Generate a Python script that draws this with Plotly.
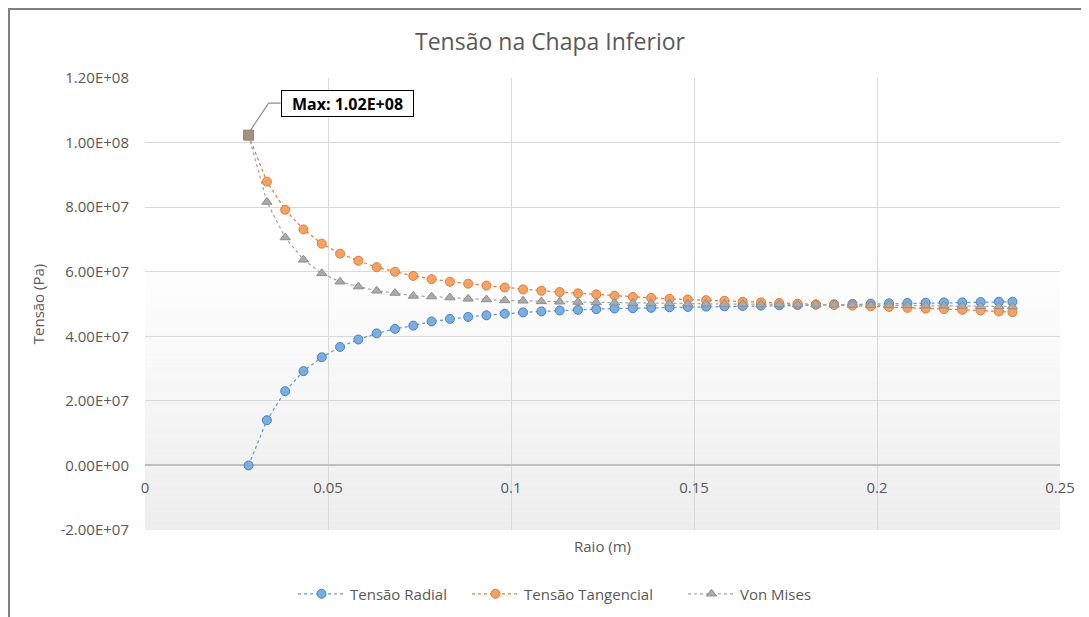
import plotly.graph_objects as go

# ---------------- data ----------------
raio = [0.0283, 0.0333, 0.0383, 0.0433, 0.0483, 0.0533, 0.0583, 0.0633, 0.0683, 0.0733,
        0.0783, 0.0833, 0.0883, 0.0933, 0.0983, 0.1033, 0.1083, 0.1133, 0.1183, 0.1233,
        0.1283, 0.1333, 0.1383, 0.1433, 0.1483, 0.1533, 0.1583, 0.1633, 0.1683, 0.1733,
        0.1783, 0.1833, 0.1883, 0.1933, 0.1983, 0.2033, 0.2083, 0.2133, 0.2183, 0.2233,
        0.2283, 0.2333, 0.2370]

tensao_radial = [0.00e7, 1.40e7, 2.30e7, 2.92e7, 3.35e7, 3.67e7, 3.90e7, 4.09e7, 4.23e7, 4.33e7,
                 4.46e7, 4.54e7, 4.60e7, 4.65e7, 4.70e7, 4.74e7, 4.77e7, 4.80e7, 4.82e7, 4.84e7,
                 4.86e7, 4.87e7, 4.88e7, 4.90e7, 4.91e7, 4.92e7, 4.93e7, 4.94e7, 4.95e7, 4.96e7,
                 4.97e7, 4.98e7, 4.99e7, 5.00e7, 5.01e7, 5.02e7, 5.03e7, 5.04e7, 5.05e7, 5.05e7,
                 5.06e7, 5.07e7, 5.07e7]

tensao_tangencial = [10.23e7, 8.79e7, 7.92e7, 7.31e7, 6.87e7, 6.56e7, 6.34e7, 6.14e7, 6.00e7, 5.87e7,
                     5.77e7, 5.69e7, 5.63e7, 5.57e7, 5.51e7, 5.45e7, 5.41e7, 5.37e7, 5.33e7, 5.30e7,
                     5.26e7, 5.22e7, 5.19e7, 5.16e7, 5.14e7, 5.12e7, 5.10e7, 5.07e7, 5.05e7, 5.03e7,
                     5.01e7, 4.99e7, 4.97e7, 4.95e7, 4.93e7, 4.91e7, 4.88e7, 4.86e7, 4.84e7, 4.82e7,
                     4.80e7, 4.77e7, 4.75e7]

von_mises = [10.23e7, 8.16e7, 7.06e7, 6.37e7, 5.95e7, 5.69e7, 5.54e7, 5.41e7, 5.34e7, 5.25e7,
             5.23e7, 5.20e7, 5.16e7, 5.14e7, 5.11e7, 5.10e7, 5.08e7, 5.07e7, 5.06e7, 5.05e7,
             5.04e7, 5.03e7, 5.02e7, 5.02e7, 5.01e7, 5.01e7, 5.00e7, 5.00e7, 4.99e7, 4.99e7,
             4.985e7, 4.98e7, 4.975e7, 4.97e7, 4.965e7, 4.96e7, 4.955e7, 4.95e7, 4.945e7, 4.94e7,
             4.93e7, 4.92e7, 4.92e7]

y_tickvals = [-2e7, 0, 2e7, 4e7, 6e7, 8e7, 10e7, 12e7]
y_ticktext = ["-2.00E+07", "0.00E+00", "2.00E+07", "4.00E+07", "6.00E+07",
              "8.00E+07", "1.00E+08", "1.20E+08"]
x_tickvals = [0, 0.05, 0.1, 0.15, 0.2, 0.25]
x_ticktext = ["0", "0.05", "0.1", "0.15", "0.2", "0.25"]

series_names = ["Tensão Radial", "Tensão Tangencial", "Von Mises"]
titulo = "Tensão na Chapa Inferior"
max_label = "Max: 1.02E+08"

# ---------------- layout constants (page pixel positions) ----------------
W, H = 1089, 617
OFF = 8                      # page offset of the figure inside the window
PLOT_L, PLOT_R, PLOT_T, PLOT_B = 145, 1060, 78, 530
ML, MT = PLOT_L - OFF, PLOT_T - OFF
MR, MB = W - (PLOT_R - OFF), H - (PLOT_B - OFF)
PW, PH = PLOT_R - PLOT_L, PLOT_B - PLOT_T
FONT = "Open Sans"
TXT = "#595959"
YMIN, YMAX = -2e7, 1.2e8
LEGEND_LEFT_PX = [293, 467, 683]   # left edge of each legend entry (page px)


def px_x(px):
    return (px - PLOT_L) / PW


def px_y(py):
    return (PLOT_B - py) / PH


fig = go.Figure()

styles = [
    dict(line="#5b9bd5", fill="#7aaee0", edge="#4a7fc0", symbol="circle"),
    dict(line="#ed7d31", fill="#f5a262", edge="#e07b39", symbol="circle"),
    dict(line="#a5a5a5", fill="#ababab", edge="#8e8e8e", symbol="triangle-up"),
]
legend_ids = ["legend", "legend2", "legend3"]
for name, ys, st, lg in zip(series_names, [tensao_radial, tensao_tangencial, von_mises],
                            styles, legend_ids):
    fig.add_trace(go.Scatter(
        x=raio, y=ys, name=name, mode="lines+markers", legend=lg,
        line=dict(color=st["line"], width=1.25, dash="dot"),
        marker=dict(symbol=st["symbol"], size=9, color=st["fill"],
                    line=dict(color=st["edge"], width=1)),
    ))

# highlighted maximum point (Von Mises / Tangencial coincide there)
fig.add_trace(go.Scatter(
    x=[raio[0]], y=[von_mises[0]], mode="markers", showlegend=False, hoverinfo="skip",
    marker=dict(symbol="square", size=10, color="#a88e7e", line=dict(color="#97806f", width=1)),
))

# gradient background of the plot area
shapes = []
N = 60
top_frac = 0.62
for i in range(N):
    f0 = top_frac * i / N
    f1 = top_frac * (i + 1) / N
    t = 1 - (f0 + f1) / 2 / top_frac
    g = int(round(255 - (255 - 237) * t))
    shapes.append(dict(type="rect", xref="paper", yref="paper", x0=0, x1=1, y0=f0, y1=f1,
                       fillcolor=f"rgb({g},{g},{g})", line=dict(width=0), layer="below"))

# outer chart border (top and left visible)
shapes.append(dict(type="line", xref="paper", yref="paper",
                   x0=px_x(8), x1=px_x(W + 10), y0=px_y(9), y1=px_y(9),
                   line=dict(color="#7f7f7f", width=2)))
shapes.append(dict(type="line", xref="paper", yref="paper",
                   x0=px_x(9), x1=px_x(9), y0=px_y(8), y1=px_y(H + 10),
                   line=dict(color="#7f7f7f", width=2)))

# elbow leader line of the max label (pixel offsets from the max point)
shapes.append(dict(type="path", xref="x", yref="y", xsizemode="pixel", ysizemode="pixel",
                   xanchor=raio[0], yanchor=von_mises[0],
                   path="M 2,5 L 20,32 L 32,32",
                   line=dict(color="#8c8c8c", width=1.2)))

annotations = [
    dict(text="Raio (m)", xref="paper", yref="paper", x=0.5, y=px_y(546),
         xanchor="center", yanchor="middle", showarrow=False,
         font=dict(family=FONT, size=15, color=TXT)),
    dict(text=f"<b>{max_label}</b>", x=raio[0], y=von_mises[0], xref="x", yref="y",
         showarrow=False, xanchor="left", yanchor="middle", xshift=32, yshift=32,
         width=127, height=21, bgcolor="white", bordercolor="#000000", borderwidth=1,
         borderpad=2, font=dict(family=FONT, size=16, color="#000000")),
]

legend_common = dict(orientation="h", xref="container", yref="container",
                     xanchor="left", y=1 - (594 - OFF) / H, yanchor="middle",
                     font=dict(family=FONT, size=15, color=TXT), itemwidth=47,
                     bgcolor="rgba(0,0,0,0)", borderwidth=0)
legends = {}
for lg, left in zip(legend_ids, LEGEND_LEFT_PX):
    legends[lg] = dict(legend_common, x=(left - OFF) / W)

fig.update_layout(
    width=W, height=H,
    margin=dict(l=ML, r=MR, t=MT, b=MB),
    paper_bgcolor="white", plot_bgcolor="white",
    font=dict(family=FONT, color=TXT, size=15),
    title=dict(text=titulo, x=(550 - OFF) / W, xref="container", xanchor="center",
               y=1 - (42 - OFF) / H, yref="container", yanchor="middle",
               font=dict(family=FONT, size=23, color=TXT)),
    shapes=shapes,
    annotations=annotations,
    showlegend=True,
    **legends,
    xaxis=dict(range=[0, 0.25], tickvals=x_tickvals, ticktext=x_ticktext,
               showgrid=True, gridcolor="#d9d9d9", gridwidth=1,
               zeroline=False, showline=False,
               anchor="free", position=(0 - YMIN) / (YMAX - YMIN),
               tickfont=dict(family=FONT, size=15, color=TXT), ticks="",
               ticklabelstandoff=12),
    yaxis=dict(range=[YMIN, YMAX], tickvals=y_tickvals, ticktext=y_ticktext,
               showgrid=True, gridcolor="#d9d9d9", gridwidth=1,
               zeroline=True, zerolinecolor="#bfbfbf", zerolinewidth=1.5,
               showline=False, ticks="", ticklabelstandoff=15,
               tickfont=dict(family=FONT, size=15, color=TXT),
               title=dict(text="Tensão (Pa)", standoff=12,
                          font=dict(family=FONT, size=15, color=TXT))),
)

fig.write_html("out.html")
